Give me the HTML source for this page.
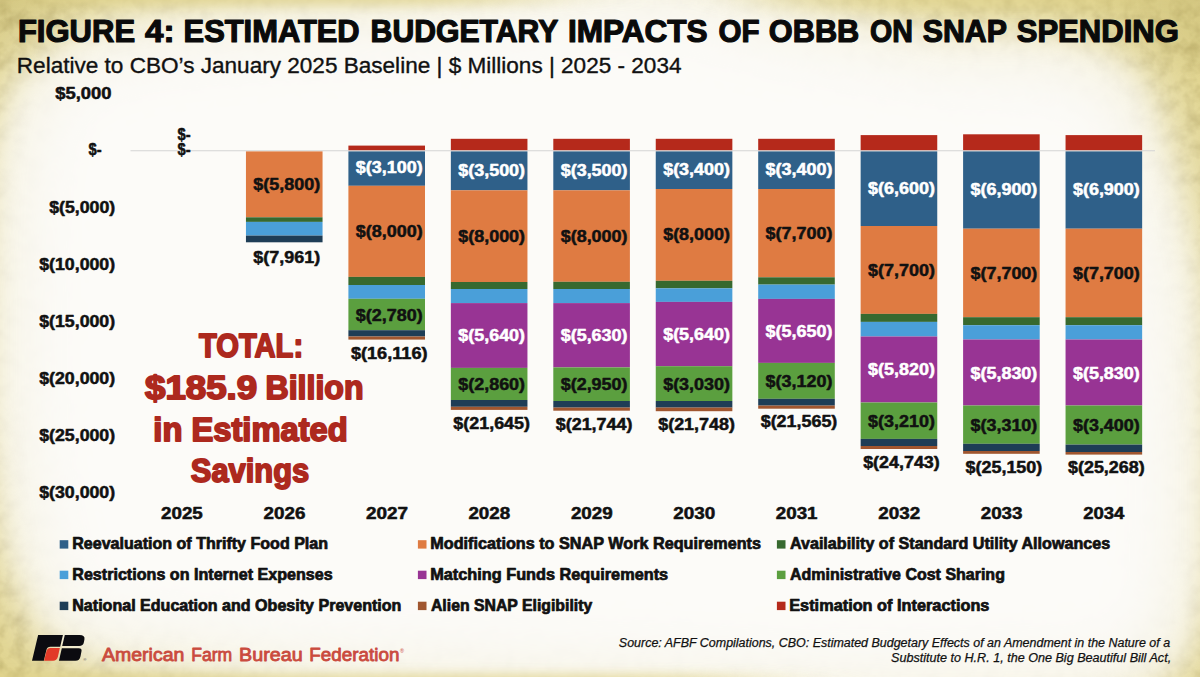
<!DOCTYPE html>
<html lang="en"><head><meta charset="utf-8"><title>Figure 4: Estimated Budgetary Impacts of OBBB on SNAP Spending</title>
<style>
html,body{margin:0;padding:0;}
body{width:1200px;height:677px;overflow:hidden;background:#fcfbf8;font-family:'Liberation Sans', Arial, Helvetica, sans-serif;}
svg{position:absolute;left:0;top:0;}
text{font-family:'Liberation Sans', Arial, Helvetica, sans-serif;}
</style></head><body>
<svg width="1200" height="677" viewBox="0 0 1200 677">
<defs>
<filter id="b1" x="-30%" y="-30%" width="160%" height="160%" color-interpolation-filters="sRGB"><feGaussianBlur stdDeviation="40"/></filter>
<filter id="b2" x="-30%" y="-30%" width="160%" height="160%" color-interpolation-filters="sRGB"><feGaussianBlur stdDeviation="14"/></filter>
<filter id="b3" x="-30%" y="-100%" width="160%" height="300%" color-interpolation-filters="sRGB"><feGaussianBlur stdDeviation="60 6"/></filter>
<filter id="tx" x="0" y="0" width="100%" height="100%" color-interpolation-filters="sRGB"><feTurbulence type="fractalNoise" baseFrequency="0.07" numOctaves="3" seed="11"/><feColorMatrix type="matrix" values="0 0 0 0 0.52  0 0 0 0 0.45  0 0 0 0 0.18  0.6 0 0 0 -0.22"/></filter>
<radialGradient id="cTL" cx="0.5" cy="0.5" r="0.5"><stop offset="0" stop-color="#5a5028" stop-opacity="0.08"/><stop offset="1" stop-color="#5a5028" stop-opacity="0"/></radialGradient>
</defs>
<rect x="0" y="0" width="1200" height="677" fill="#dfd28a"/>
<rect x="0" y="0" width="1200" height="677" filter="url(#tx)"/>
<polygon points="-7,300 -5,200 0,140 15,85 30,68 60,46 80,35 120,22 250,8 300,5 400,0 500,-10 600,-23 700,-20 760,1 850,17 950,36 1050,38 1100,50 1135,72 1152,100 1166,150 1180,200 1190,250 1199,307 1204,450 1204,560 1192,640 1180,665 1150,684 1100,698 850,705 600,695 300,684 190,668 100,657 60,645 38,625 30,600 12,560 0,480 -7,400" fill="#fcfbf8" filter="url(#b1)"/>
<polygon points="-7,300 -5,200 0,140 15,85 30,68 60,46 80,35 120,22 250,8 300,5 400,0 500,-10 600,-23 700,-20 760,1 850,17 950,36 1050,38 1100,50 1135,72 1152,100 1166,150 1180,200 1190,250 1199,307 1204,450 1204,560 1192,640 1180,665 1150,684 1100,698 850,705 600,695 300,684 190,668 100,657 60,645 38,625 30,600 12,560 0,480 -7,400" fill="#fcfbf8" opacity="0.6" filter="url(#b2)"/>
<rect x="-150" y="675" width="900" height="40" fill="#dfd28a" opacity="0.8" filter="url(#b3)"/>
<rect x="-150" y="-40" width="680" height="45" fill="#dfd28a" opacity="0.7" filter="url(#b3)"/>
<rect x="800" y="-40" width="500" height="50" fill="#dfd28a" opacity="0.5" filter="url(#b3)"/>
<ellipse cx="0" cy="0" rx="90" ry="70" fill="url(#cTL)"/>
<ellipse cx="1200" cy="0" rx="110" ry="80" fill="url(#cTL)"/>
<line x1="130.5" y1="150.8" x2="1155" y2="150.8" stroke="#d4d4d4" stroke-width="1.1"/>
<rect x="245.95" y="151.40" width="76.60" height="65.90" fill="#df7b42"/>
<rect x="245.95" y="217.30" width="76.60" height="4.60" fill="#37692f"/>
<rect x="245.95" y="221.90" width="76.60" height="13.70" fill="#4a9fd9"/>
<rect x="245.95" y="235.60" width="76.60" height="6.70" fill="#1e3d56"/>
<rect x="348.40" y="145.60" width="76.60" height="4.60" fill="#b5291b"/>
<rect x="348.40" y="151.40" width="76.60" height="34.40" fill="#2f6089"/>
<rect x="348.40" y="185.80" width="76.60" height="91.10" fill="#df7b42"/>
<rect x="348.40" y="276.90" width="76.60" height="8.10" fill="#37692f"/>
<rect x="348.40" y="285.00" width="76.60" height="13.80" fill="#4a9fd9"/>
<rect x="348.40" y="298.80" width="76.60" height="31.40" fill="#5b9f3f"/>
<rect x="348.40" y="330.20" width="76.60" height="6.30" fill="#1e3d56"/>
<rect x="348.40" y="336.50" width="76.60" height="3.10" fill="#a0562f"/>
<rect x="450.85" y="138.80" width="76.60" height="11.40" fill="#b5291b"/>
<rect x="450.85" y="151.40" width="76.60" height="38.90" fill="#2f6089"/>
<rect x="450.85" y="190.30" width="76.60" height="91.70" fill="#df7b42"/>
<rect x="450.85" y="282.00" width="76.60" height="7.00" fill="#37692f"/>
<rect x="450.85" y="289.00" width="76.60" height="14.10" fill="#4a9fd9"/>
<rect x="450.85" y="303.10" width="76.60" height="64.80" fill="#983494"/>
<rect x="450.85" y="367.90" width="76.60" height="32.10" fill="#5b9f3f"/>
<rect x="450.85" y="400.00" width="76.60" height="6.80" fill="#1e3d56"/>
<rect x="450.85" y="406.80" width="76.60" height="3.10" fill="#a0562f"/>
<rect x="553.30" y="138.80" width="76.60" height="11.40" fill="#b5291b"/>
<rect x="553.30" y="151.40" width="76.60" height="38.90" fill="#2f6089"/>
<rect x="553.30" y="190.30" width="76.60" height="91.50" fill="#df7b42"/>
<rect x="553.30" y="281.80" width="76.60" height="7.20" fill="#37692f"/>
<rect x="553.30" y="289.00" width="76.60" height="14.10" fill="#4a9fd9"/>
<rect x="553.30" y="303.10" width="76.60" height="64.30" fill="#983494"/>
<rect x="553.30" y="367.40" width="76.60" height="33.60" fill="#5b9f3f"/>
<rect x="553.30" y="401.00" width="76.60" height="6.60" fill="#1e3d56"/>
<rect x="553.30" y="407.60" width="76.60" height="3.10" fill="#a0562f"/>
<rect x="655.75" y="138.80" width="76.60" height="11.40" fill="#b5291b"/>
<rect x="655.75" y="151.40" width="76.60" height="37.60" fill="#2f6089"/>
<rect x="655.75" y="189.00" width="76.60" height="91.80" fill="#df7b42"/>
<rect x="655.75" y="280.80" width="76.60" height="7.50" fill="#37692f"/>
<rect x="655.75" y="288.30" width="76.60" height="13.60" fill="#4a9fd9"/>
<rect x="655.75" y="301.90" width="76.60" height="64.30" fill="#983494"/>
<rect x="655.75" y="366.20" width="76.60" height="34.80" fill="#5b9f3f"/>
<rect x="655.75" y="401.00" width="76.60" height="6.60" fill="#1e3d56"/>
<rect x="655.75" y="407.60" width="76.60" height="3.60" fill="#a0562f"/>
<rect x="758.20" y="138.80" width="76.60" height="11.40" fill="#b5291b"/>
<rect x="758.20" y="151.40" width="76.60" height="37.60" fill="#2f6089"/>
<rect x="758.20" y="189.00" width="76.60" height="88.30" fill="#df7b42"/>
<rect x="758.20" y="277.30" width="76.60" height="7.30" fill="#37692f"/>
<rect x="758.20" y="284.60" width="76.60" height="14.30" fill="#4a9fd9"/>
<rect x="758.20" y="298.90" width="76.60" height="64.00" fill="#983494"/>
<rect x="758.20" y="362.90" width="76.60" height="35.90" fill="#5b9f3f"/>
<rect x="758.20" y="398.80" width="76.60" height="6.80" fill="#1e3d56"/>
<rect x="758.20" y="405.60" width="76.60" height="3.10" fill="#a0562f"/>
<rect x="860.65" y="135.10" width="76.60" height="15.10" fill="#b5291b"/>
<rect x="860.65" y="151.40" width="76.60" height="74.60" fill="#2f6089"/>
<rect x="860.65" y="226.00" width="76.60" height="87.90" fill="#df7b42"/>
<rect x="860.65" y="313.90" width="76.60" height="8.00" fill="#37692f"/>
<rect x="860.65" y="321.90" width="76.60" height="14.60" fill="#4a9fd9"/>
<rect x="860.65" y="336.50" width="76.60" height="66.00" fill="#983494"/>
<rect x="860.65" y="402.50" width="76.60" height="36.40" fill="#5b9f3f"/>
<rect x="860.65" y="438.90" width="76.60" height="7.10" fill="#1e3d56"/>
<rect x="860.65" y="446.00" width="76.60" height="3.00" fill="#a0562f"/>
<rect x="963.10" y="134.30" width="76.60" height="15.90" fill="#b5291b"/>
<rect x="963.10" y="151.40" width="76.60" height="77.30" fill="#2f6089"/>
<rect x="963.10" y="228.70" width="76.60" height="88.50" fill="#df7b42"/>
<rect x="963.10" y="317.20" width="76.60" height="8.00" fill="#37692f"/>
<rect x="963.10" y="325.20" width="76.60" height="14.30" fill="#4a9fd9"/>
<rect x="963.10" y="339.50" width="76.60" height="66.00" fill="#983494"/>
<rect x="963.10" y="405.50" width="76.60" height="38.30" fill="#5b9f3f"/>
<rect x="963.10" y="443.80" width="76.60" height="7.20" fill="#1e3d56"/>
<rect x="963.10" y="451.00" width="76.60" height="2.80" fill="#a0562f"/>
<rect x="1065.55" y="135.10" width="76.60" height="15.10" fill="#b5291b"/>
<rect x="1065.55" y="151.40" width="76.60" height="77.30" fill="#2f6089"/>
<rect x="1065.55" y="228.70" width="76.60" height="88.50" fill="#df7b42"/>
<rect x="1065.55" y="317.20" width="76.60" height="8.00" fill="#37692f"/>
<rect x="1065.55" y="325.20" width="76.60" height="14.30" fill="#4a9fd9"/>
<rect x="1065.55" y="339.50" width="76.60" height="66.00" fill="#983494"/>
<rect x="1065.55" y="405.50" width="76.60" height="39.10" fill="#5b9f3f"/>
<rect x="1065.55" y="444.60" width="76.60" height="7.40" fill="#1e3d56"/>
<rect x="1065.55" y="452.00" width="76.60" height="2.60" fill="#a0562f"/>
<text x="253.36" y="189.60" font-size="16" font-weight="bold" fill="#111111" textLength="66.83" lengthAdjust="spacingAndGlyphs" stroke="#111111" stroke-width="0.5" stroke-linejoin="round">$(5,800)</text>
<text x="253.36" y="262.90" font-size="16" font-weight="bold" fill="#111111" textLength="66.83" lengthAdjust="spacingAndGlyphs" stroke="#111111" stroke-width="0.5" stroke-linejoin="round">$(7,961)</text>
<text x="355.81" y="173.30" font-size="16" font-weight="bold" fill="#ffffff" textLength="66.83" lengthAdjust="spacingAndGlyphs" stroke="#ffffff" stroke-width="0.5" stroke-linejoin="round">$(3,100)</text>
<text x="355.81" y="237.30" font-size="16" font-weight="bold" fill="#111111" textLength="66.83" lengthAdjust="spacingAndGlyphs" stroke="#111111" stroke-width="0.5" stroke-linejoin="round">$(8,000)</text>
<text x="355.81" y="321.20" font-size="16" font-weight="bold" fill="#111111" textLength="66.83" lengthAdjust="spacingAndGlyphs" stroke="#111111" stroke-width="0.5" stroke-linejoin="round">$(2,780)</text>
<text x="350.91" y="358.90" font-size="16" font-weight="bold" fill="#111111" textLength="76.63" lengthAdjust="spacingAndGlyphs" stroke="#111111" stroke-width="0.5" stroke-linejoin="round">$(16,116)</text>
<text x="458.26" y="176.30" font-size="16" font-weight="bold" fill="#ffffff" textLength="66.83" lengthAdjust="spacingAndGlyphs" stroke="#ffffff" stroke-width="0.5" stroke-linejoin="round">$(3,500)</text>
<text x="458.26" y="242.10" font-size="16" font-weight="bold" fill="#111111" textLength="66.83" lengthAdjust="spacingAndGlyphs" stroke="#111111" stroke-width="0.5" stroke-linejoin="round">$(8,000)</text>
<text x="458.26" y="341.30" font-size="16" font-weight="bold" fill="#ffffff" textLength="66.83" lengthAdjust="spacingAndGlyphs" stroke="#ffffff" stroke-width="0.5" stroke-linejoin="round">$(5,640)</text>
<text x="458.26" y="390.30" font-size="16" font-weight="bold" fill="#111111" textLength="66.83" lengthAdjust="spacingAndGlyphs" stroke="#111111" stroke-width="0.5" stroke-linejoin="round">$(2,860)</text>
<text x="453.36" y="428.70" font-size="16" font-weight="bold" fill="#111111" textLength="76.63" lengthAdjust="spacingAndGlyphs" stroke="#111111" stroke-width="0.5" stroke-linejoin="round">$(21,645)</text>
<text x="560.71" y="176.30" font-size="16" font-weight="bold" fill="#ffffff" textLength="66.83" lengthAdjust="spacingAndGlyphs" stroke="#ffffff" stroke-width="0.5" stroke-linejoin="round">$(3,500)</text>
<text x="560.71" y="241.60" font-size="16" font-weight="bold" fill="#111111" textLength="66.83" lengthAdjust="spacingAndGlyphs" stroke="#111111" stroke-width="0.5" stroke-linejoin="round">$(8,000)</text>
<text x="560.71" y="340.90" font-size="16" font-weight="bold" fill="#ffffff" textLength="66.83" lengthAdjust="spacingAndGlyphs" stroke="#ffffff" stroke-width="0.5" stroke-linejoin="round">$(5,630)</text>
<text x="560.71" y="390.30" font-size="16" font-weight="bold" fill="#111111" textLength="66.83" lengthAdjust="spacingAndGlyphs" stroke="#111111" stroke-width="0.5" stroke-linejoin="round">$(2,950)</text>
<text x="555.81" y="429.80" font-size="16" font-weight="bold" fill="#111111" textLength="76.63" lengthAdjust="spacingAndGlyphs" stroke="#111111" stroke-width="0.5" stroke-linejoin="round">$(21,744)</text>
<text x="663.16" y="175.10" font-size="16" font-weight="bold" fill="#ffffff" textLength="66.83" lengthAdjust="spacingAndGlyphs" stroke="#ffffff" stroke-width="0.5" stroke-linejoin="round">$(3,400)</text>
<text x="663.16" y="240.30" font-size="16" font-weight="bold" fill="#111111" textLength="66.83" lengthAdjust="spacingAndGlyphs" stroke="#111111" stroke-width="0.5" stroke-linejoin="round">$(8,000)</text>
<text x="663.16" y="339.60" font-size="16" font-weight="bold" fill="#ffffff" textLength="66.83" lengthAdjust="spacingAndGlyphs" stroke="#ffffff" stroke-width="0.5" stroke-linejoin="round">$(5,640)</text>
<text x="663.16" y="389.80" font-size="16" font-weight="bold" fill="#111111" textLength="66.83" lengthAdjust="spacingAndGlyphs" stroke="#111111" stroke-width="0.5" stroke-linejoin="round">$(3,030)</text>
<text x="658.26" y="429.80" font-size="16" font-weight="bold" fill="#111111" textLength="76.63" lengthAdjust="spacingAndGlyphs" stroke="#111111" stroke-width="0.5" stroke-linejoin="round">$(21,748)</text>
<text x="765.61" y="174.60" font-size="16" font-weight="bold" fill="#ffffff" textLength="66.83" lengthAdjust="spacingAndGlyphs" stroke="#ffffff" stroke-width="0.5" stroke-linejoin="round">$(3,400)</text>
<text x="765.61" y="238.60" font-size="16" font-weight="bold" fill="#111111" textLength="66.83" lengthAdjust="spacingAndGlyphs" stroke="#111111" stroke-width="0.5" stroke-linejoin="round">$(7,700)</text>
<text x="765.61" y="337.10" font-size="16" font-weight="bold" fill="#ffffff" textLength="66.83" lengthAdjust="spacingAndGlyphs" stroke="#ffffff" stroke-width="0.5" stroke-linejoin="round">$(5,650)</text>
<text x="765.61" y="386.60" font-size="16" font-weight="bold" fill="#111111" textLength="66.83" lengthAdjust="spacingAndGlyphs" stroke="#111111" stroke-width="0.5" stroke-linejoin="round">$(3,120)</text>
<text x="760.71" y="426.70" font-size="16" font-weight="bold" fill="#111111" textLength="76.63" lengthAdjust="spacingAndGlyphs" stroke="#111111" stroke-width="0.5" stroke-linejoin="round">$(21,565)</text>
<text x="868.06" y="193.90" font-size="16" font-weight="bold" fill="#ffffff" textLength="66.83" lengthAdjust="spacingAndGlyphs" stroke="#ffffff" stroke-width="0.5" stroke-linejoin="round">$(6,600)</text>
<text x="868.06" y="275.50" font-size="16" font-weight="bold" fill="#111111" textLength="66.83" lengthAdjust="spacingAndGlyphs" stroke="#111111" stroke-width="0.5" stroke-linejoin="round">$(7,700)</text>
<text x="868.06" y="375.20" font-size="16" font-weight="bold" fill="#ffffff" textLength="66.83" lengthAdjust="spacingAndGlyphs" stroke="#ffffff" stroke-width="0.5" stroke-linejoin="round">$(5,820)</text>
<text x="868.06" y="426.70" font-size="16" font-weight="bold" fill="#111111" textLength="66.83" lengthAdjust="spacingAndGlyphs" stroke="#111111" stroke-width="0.5" stroke-linejoin="round">$(3,210)</text>
<text x="863.16" y="467.60" font-size="16" font-weight="bold" fill="#111111" textLength="76.63" lengthAdjust="spacingAndGlyphs" stroke="#111111" stroke-width="0.5" stroke-linejoin="round">$(24,743)</text>
<text x="970.51" y="195.10" font-size="16" font-weight="bold" fill="#ffffff" textLength="66.83" lengthAdjust="spacingAndGlyphs" stroke="#ffffff" stroke-width="0.5" stroke-linejoin="round">$(6,900)</text>
<text x="970.51" y="278.70" font-size="16" font-weight="bold" fill="#111111" textLength="66.83" lengthAdjust="spacingAndGlyphs" stroke="#111111" stroke-width="0.5" stroke-linejoin="round">$(7,700)</text>
<text x="970.51" y="378.50" font-size="16" font-weight="bold" fill="#ffffff" textLength="66.83" lengthAdjust="spacingAndGlyphs" stroke="#ffffff" stroke-width="0.5" stroke-linejoin="round">$(5,830)</text>
<text x="970.51" y="430.50" font-size="16" font-weight="bold" fill="#111111" textLength="66.83" lengthAdjust="spacingAndGlyphs" stroke="#111111" stroke-width="0.5" stroke-linejoin="round">$(3,310)</text>
<text x="965.61" y="472.60" font-size="16" font-weight="bold" fill="#111111" textLength="76.63" lengthAdjust="spacingAndGlyphs" stroke="#111111" stroke-width="0.5" stroke-linejoin="round">$(25,150)</text>
<text x="1072.96" y="195.10" font-size="16" font-weight="bold" fill="#ffffff" textLength="66.83" lengthAdjust="spacingAndGlyphs" stroke="#ffffff" stroke-width="0.5" stroke-linejoin="round">$(6,900)</text>
<text x="1072.96" y="278.70" font-size="16" font-weight="bold" fill="#111111" textLength="66.83" lengthAdjust="spacingAndGlyphs" stroke="#111111" stroke-width="0.5" stroke-linejoin="round">$(7,700)</text>
<text x="1072.96" y="378.50" font-size="16" font-weight="bold" fill="#ffffff" textLength="66.83" lengthAdjust="spacingAndGlyphs" stroke="#ffffff" stroke-width="0.5" stroke-linejoin="round">$(5,830)</text>
<text x="1072.96" y="430.50" font-size="16" font-weight="bold" fill="#111111" textLength="66.83" lengthAdjust="spacingAndGlyphs" stroke="#111111" stroke-width="0.5" stroke-linejoin="round">$(3,400)</text>
<text x="1068.06" y="473.40" font-size="16" font-weight="bold" fill="#111111" textLength="76.63" lengthAdjust="spacingAndGlyphs" stroke="#111111" stroke-width="0.5" stroke-linejoin="round">$(25,268)</text>
<text x="177.46" y="139.50" font-size="16" font-weight="bold" fill="#111111" textLength="13.08" lengthAdjust="spacingAndGlyphs" stroke="#111111" stroke-width="0.5" stroke-linejoin="round">$-</text>
<text x="177.46" y="155.40" font-size="16" font-weight="bold" fill="#111111" textLength="13.08" lengthAdjust="spacingAndGlyphs" stroke="#111111" stroke-width="0.5" stroke-linejoin="round">$-</text>
<text x="55.31" y="98.50" font-size="16" font-weight="bold" fill="#111111" textLength="56.20" lengthAdjust="spacingAndGlyphs" stroke="#111111" stroke-width="0.5" stroke-linejoin="round">$5,000</text>
<text x="88.46" y="154.54" font-size="16" font-weight="bold" fill="#111111" textLength="13.08" lengthAdjust="spacingAndGlyphs" stroke="#111111" stroke-width="0.5" stroke-linejoin="round">$-</text>
<text x="49.22" y="212.58" font-size="16" font-weight="bold" fill="#111111" textLength="65.91" lengthAdjust="spacingAndGlyphs" stroke="#111111" stroke-width="0.5" stroke-linejoin="round">$(5,000)</text>
<text x="39.22" y="269.62" font-size="16" font-weight="bold" fill="#111111" textLength="75.92" lengthAdjust="spacingAndGlyphs" stroke="#111111" stroke-width="0.5" stroke-linejoin="round">$(10,000)</text>
<text x="39.22" y="326.66" font-size="16" font-weight="bold" fill="#111111" textLength="75.92" lengthAdjust="spacingAndGlyphs" stroke="#111111" stroke-width="0.5" stroke-linejoin="round">$(15,000)</text>
<text x="39.22" y="383.70" font-size="16" font-weight="bold" fill="#111111" textLength="75.92" lengthAdjust="spacingAndGlyphs" stroke="#111111" stroke-width="0.5" stroke-linejoin="round">$(20,000)</text>
<text x="39.22" y="440.74" font-size="16" font-weight="bold" fill="#111111" textLength="75.92" lengthAdjust="spacingAndGlyphs" stroke="#111111" stroke-width="0.5" stroke-linejoin="round">$(25,000)</text>
<text x="39.22" y="497.78" font-size="16" font-weight="bold" fill="#111111" textLength="75.92" lengthAdjust="spacingAndGlyphs" stroke="#111111" stroke-width="0.5" stroke-linejoin="round">$(30,000)</text>
<text x="161.10" y="519.40" font-size="16" font-weight="bold" fill="#111111" textLength="41.67" lengthAdjust="spacingAndGlyphs" stroke="#111111" stroke-width="0.5" stroke-linejoin="round">2025</text>
<text x="263.55" y="519.40" font-size="16" font-weight="bold" fill="#111111" textLength="41.83" lengthAdjust="spacingAndGlyphs" stroke="#111111" stroke-width="0.5" stroke-linejoin="round">2026</text>
<text x="366.00" y="519.40" font-size="16" font-weight="bold" fill="#111111" textLength="41.98" lengthAdjust="spacingAndGlyphs" stroke="#111111" stroke-width="0.5" stroke-linejoin="round">2027</text>
<text x="468.45" y="519.40" font-size="16" font-weight="bold" fill="#111111" textLength="41.73" lengthAdjust="spacingAndGlyphs" stroke="#111111" stroke-width="0.5" stroke-linejoin="round">2028</text>
<text x="570.90" y="519.40" font-size="16" font-weight="bold" fill="#111111" textLength="41.85" lengthAdjust="spacingAndGlyphs" stroke="#111111" stroke-width="0.5" stroke-linejoin="round">2029</text>
<text x="673.35" y="519.40" font-size="16" font-weight="bold" fill="#111111" textLength="41.93" lengthAdjust="spacingAndGlyphs" stroke="#111111" stroke-width="0.5" stroke-linejoin="round">2030</text>
<text x="775.80" y="519.40" font-size="16" font-weight="bold" fill="#111111" textLength="41.67" lengthAdjust="spacingAndGlyphs" stroke="#111111" stroke-width="0.5" stroke-linejoin="round">2031</text>
<text x="878.25" y="519.40" font-size="16" font-weight="bold" fill="#111111" textLength="41.91" lengthAdjust="spacingAndGlyphs" stroke="#111111" stroke-width="0.5" stroke-linejoin="round">2032</text>
<text x="980.70" y="519.40" font-size="16" font-weight="bold" fill="#111111" textLength="41.83" lengthAdjust="spacingAndGlyphs" stroke="#111111" stroke-width="0.5" stroke-linejoin="round">2033</text>
<text x="1083.16" y="519.40" font-size="16" font-weight="bold" fill="#111111" textLength="41.24" lengthAdjust="spacingAndGlyphs" stroke="#111111" stroke-width="0.5" stroke-linejoin="round">2034</text>
<rect x="59.70" y="540.20" width="8.60" height="8.40" fill="#2f6089"/>
<text x="72.28" y="549.00" font-size="15.7" font-weight="bold" fill="#111111" textLength="255.77" lengthAdjust="spacingAndGlyphs" stroke="#111111" stroke-width="0.7" stroke-linejoin="round">Reevaluation of Thrifty Food Plan</text>
<rect x="59.70" y="570.70" width="8.60" height="8.40" fill="#4a9fd9"/>
<text x="72.27" y="579.50" font-size="15.7" font-weight="bold" fill="#111111" textLength="260.44" lengthAdjust="spacingAndGlyphs" stroke="#111111" stroke-width="0.7" stroke-linejoin="round">Restrictions on Internet Expenses</text>
<rect x="59.70" y="601.70" width="8.60" height="8.40" fill="#1e3d56"/>
<text x="72.28" y="610.50" font-size="15.7" font-weight="bold" fill="#111111" textLength="329.17" lengthAdjust="spacingAndGlyphs" stroke="#111111" stroke-width="0.7" stroke-linejoin="round">National Education and Obesity Prevention</text>
<rect x="417.90" y="540.20" width="8.60" height="8.40" fill="#df7b42"/>
<text x="430.27" y="549.00" font-size="15.7" font-weight="bold" fill="#111111" textLength="330.75" lengthAdjust="spacingAndGlyphs" stroke="#111111" stroke-width="0.7" stroke-linejoin="round">Modifications to SNAP Work Requirements</text>
<rect x="417.90" y="570.70" width="8.60" height="8.40" fill="#983494"/>
<text x="430.26" y="579.50" font-size="15.7" font-weight="bold" fill="#111111" textLength="237.86" lengthAdjust="spacingAndGlyphs" stroke="#111111" stroke-width="0.7" stroke-linejoin="round">Matching Funds Requirements</text>
<rect x="417.90" y="601.70" width="8.60" height="8.40" fill="#a0562f"/>
<text x="430.96" y="610.50" font-size="15.7" font-weight="bold" fill="#111111" textLength="161.28" lengthAdjust="spacingAndGlyphs" stroke="#111111" stroke-width="0.7" stroke-linejoin="round">Alien SNAP Eligibility</text>
<rect x="776.90" y="540.20" width="8.60" height="8.40" fill="#37692f"/>
<text x="789.95" y="549.00" font-size="15.7" font-weight="bold" fill="#111111" textLength="320.16" lengthAdjust="spacingAndGlyphs" stroke="#111111" stroke-width="0.7" stroke-linejoin="round">Availability of Standard Utility Allowances</text>
<rect x="776.90" y="570.70" width="8.60" height="8.40" fill="#5b9f3f"/>
<text x="789.95" y="579.50" font-size="15.7" font-weight="bold" fill="#111111" textLength="214.97" lengthAdjust="spacingAndGlyphs" stroke="#111111" stroke-width="0.7" stroke-linejoin="round">Administrative Cost Sharing</text>
<rect x="776.90" y="601.70" width="8.60" height="8.40" fill="#b5291b"/>
<text x="789.26" y="610.50" font-size="15.7" font-weight="bold" fill="#111111" textLength="200.16" lengthAdjust="spacingAndGlyphs" stroke="#111111" stroke-width="0.7" stroke-linejoin="round">Estimation of Interactions</text>
<g>
<text x="17.92" y="42.10" font-size="31.3" font-weight="bold" fill="#0a0a0a" textLength="117.19" lengthAdjust="spacingAndGlyphs" stroke="#0a0a0a" stroke-width="1.2" stroke-linejoin="round">FIGURE</text>
<text x="145.10" y="42.10" font-size="31.3" font-weight="bold" fill="#0a0a0a" textLength="29.49" lengthAdjust="spacingAndGlyphs" stroke="#0a0a0a" stroke-width="1.2" stroke-linejoin="round">4:</text>
<text x="183.56" y="42.10" font-size="31.3" font-weight="bold" fill="#0a0a0a" textLength="176.12" lengthAdjust="spacingAndGlyphs" stroke="#0a0a0a" stroke-width="1.2" stroke-linejoin="round">ESTIMATED</text>
<text x="370.62" y="42.10" font-size="31.3" font-weight="bold" fill="#0a0a0a" textLength="187.76" lengthAdjust="spacingAndGlyphs" stroke="#0a0a0a" stroke-width="1.2" stroke-linejoin="round">BUDGETARY</text>
<text x="567.92" y="42.10" font-size="31.3" font-weight="bold" fill="#0a0a0a" textLength="139.69" lengthAdjust="spacingAndGlyphs" stroke="#0a0a0a" stroke-width="1.2" stroke-linejoin="round">IMPACTS</text>
<text x="718.39" y="42.10" font-size="31.3" font-weight="bold" fill="#0a0a0a" textLength="41.10" lengthAdjust="spacingAndGlyphs" stroke="#0a0a0a" stroke-width="1.2" stroke-linejoin="round">OF</text>
<text x="768.84" y="42.10" font-size="31.3" font-weight="bold" fill="#0a0a0a" textLength="90.46" lengthAdjust="spacingAndGlyphs" stroke="#0a0a0a" stroke-width="1.2" stroke-linejoin="round">OBBB</text>
<text x="869.93" y="42.10" font-size="31.3" font-weight="bold" fill="#0a0a0a" textLength="42.90" lengthAdjust="spacingAndGlyphs" stroke="#0a0a0a" stroke-width="1.2" stroke-linejoin="round">ON</text>
<text x="922.73" y="42.10" font-size="31.3" font-weight="bold" fill="#0a0a0a" textLength="84.21" lengthAdjust="spacingAndGlyphs" stroke="#0a0a0a" stroke-width="1.2" stroke-linejoin="round">SNAP</text>
<text x="1016.71" y="42.10" font-size="31.3" font-weight="bold" fill="#0a0a0a" textLength="162.12" lengthAdjust="spacingAndGlyphs" stroke="#0a0a0a" stroke-width="1.2" stroke-linejoin="round">SPENDING</text>
</g>
<text x="16.83" y="72.60" font-size="21.6" font-weight="normal" fill="#111" textLength="664.66" lengthAdjust="spacingAndGlyphs" stroke="#111" stroke-width="0.35" stroke-linejoin="round">Relative to CBO’s January 2025 Baseline | $ Millions | 2025 - 2034</text>
<text x="198.98" y="357.40" font-size="32.3" font-weight="bold" fill="#ad291e" textLength="104.15" lengthAdjust="spacingAndGlyphs" stroke="#ad291e" stroke-width="1.8" stroke-linejoin="round">TOTAL:</text>
<text x="145.02" y="399.20" font-size="32.3" font-weight="bold" fill="#ad291e" textLength="112.14" lengthAdjust="spacingAndGlyphs" stroke="#ad291e" stroke-width="1.8" stroke-linejoin="round">$185.9</text>
<text x="265.56" y="399.20" font-size="32.3" font-weight="bold" fill="#ad291e" textLength="97.93" lengthAdjust="spacingAndGlyphs" stroke="#ad291e" stroke-width="1.8" stroke-linejoin="round">Billion</text>
<text x="153.32" y="440.90" font-size="32.3" font-weight="bold" fill="#ad291e" textLength="194.44" lengthAdjust="spacingAndGlyphs" stroke="#ad291e" stroke-width="1.8" stroke-linejoin="round">in Estimated</text>
<text x="190.81" y="482.40" font-size="32.3" font-weight="bold" fill="#ad291e" textLength="118.35" lengthAdjust="spacingAndGlyphs" stroke="#ad291e" stroke-width="1.8" stroke-linejoin="round">Savings</text>
<text x="618.87" y="646.50" font-size="12" font-weight="normal" fill="#111" textLength="551.23" lengthAdjust="spacingAndGlyphs" stroke="#111" stroke-width="0.25" stroke-linejoin="round" font-style="italic">Source: AFBF Compilations, CBO: Estimated Budgetary Effects of an Amendment in the Nature of a</text>
<text x="891.07" y="661.70" font-size="12" font-weight="normal" fill="#111" textLength="280.07" lengthAdjust="spacingAndGlyphs" stroke="#111" stroke-width="0.25" stroke-linejoin="round" font-style="italic">Substitute to H.R. 1, the One Big Beautiful Bill Act,</text>
<text x="102.06" y="660.90" font-size="17.5" font-weight="normal" fill="#ca4b3e" textLength="82.30" lengthAdjust="spacingAndGlyphs" stroke="#ca4b3e" stroke-width="0.8" stroke-linejoin="round">American</text>
<text x="191.26" y="660.90" font-size="17.5" font-weight="normal" fill="#ca4b3e" textLength="41.00" lengthAdjust="spacingAndGlyphs" stroke="#ca4b3e" stroke-width="0.8" stroke-linejoin="round">Farm</text>
<text x="239.08" y="660.90" font-size="17.5" font-weight="normal" fill="#ca4b3e" textLength="63.52" lengthAdjust="spacingAndGlyphs" stroke="#ca4b3e" stroke-width="0.8" stroke-linejoin="round">Bureau</text>
<text x="309.35" y="660.90" font-size="17.5" font-weight="normal" fill="#ca4b3e" textLength="90.07" lengthAdjust="spacingAndGlyphs" stroke="#ca4b3e" stroke-width="0.8" stroke-linejoin="round">Federation</text>
<text x="399.92" y="652.60" font-size="5.5" font-weight="normal" fill="#ca4b3e" textLength="4.05" lengthAdjust="spacingAndGlyphs">®</text>
<g transform="translate(28,630) scale(0.053333)">
<path d="M190,95 L655,95 L603,315 L420,315 Q360,315 345,375 L297,575 L75,575 Z" fill="#0b0b10"/>
<path d="M420,337 L598,337 L560,500 Q540,575 470,575 L302,575 L347,395 Q362,337 420,337 Z" fill="#e23a28"/>
<path d="M690,95 L965,95 Q1075,95 1058,180 L1048,230 Q1035,300 960,300 L641,300 Z" fill="#0b0b10"/>
<path d="M634,342 L950,342 Q1015,342 1003,400 L985,490 Q968,575 890,575 L580,575 Z" fill="#0b0b10"/>
</g>
<text x="83.33" y="660.90" font-size="4.4" font-weight="normal" fill="#444" textLength="3.24" lengthAdjust="spacingAndGlyphs">®</text>
</svg>
</body></html>
